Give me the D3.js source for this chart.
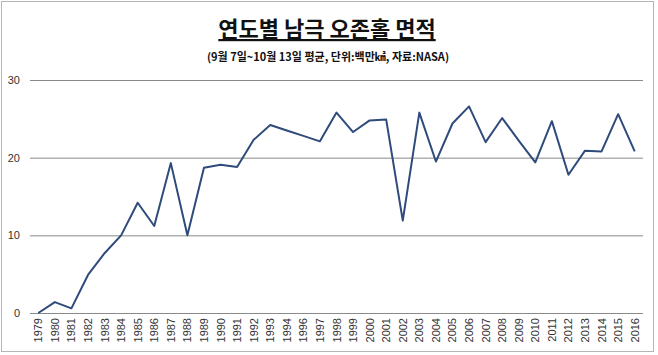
<!DOCTYPE html>
<html><head><meta charset="utf-8">
<script src="https://cdn.jsdelivr.net/npm/d3@7/dist/d3.min.js"></script>
<style>body{margin:0;background:#fff}svg{display:block}</style>
</head><body>
<svg id="c" width="658" height="355"></svg>
<script>
const years = ["1979","1980","1981","1982","1983","1984","1985","1986","1987","1988","1989","1990","1991","1992","1993","1994","1996","1997","1998","1999","2000","2001","2002","2003","2004","2005","2006","2007","2008","2009","2010","2011","2012","2013","2014","2015","2016"];
const area = [0.0,1.4,0.6,4.9,7.7,10.0,14.2,11.2,19.3,10.0,18.7,19.1,18.8,22.3,24.2,23.5,22.8,22.1,25.8,23.3,24.8,24.9,11.9,25.8,19.5,24.4,26.6,22.0,25.1,22.2,19.4,24.7,17.8,20.9,20.8,25.6,20.8];
const yTicks = [0,10,20,30];
const title = "연도별 남극 오존홀 면적";
const subtitle = "(9월 7일~10월 13일 평균, 단위:백만㎢, 자료:NASA)";

const svg = d3.select("#c");
const L = 30, R = 643, T = 80, B = 313;
const x = d3.scaleBand().domain(years).range([L, R]);
const y = d3.scaleLinear().domain([0, 30]).range([B, T]);
const font = "'Liberation Sans', Arial, sans-serif";

// outer frame
svg.append("rect").attr("x", 1.5).attr("y", 1.5).attr("width", 652).attr("height", 350)
  .attr("fill", "none").attr("stroke", "#b5b5b5").attr("stroke-width", 1);

// title
svg.append("text").attr("x", 327).attr("y", 37).attr("text-anchor", "middle")
  .attr("font-family", "'Noto Sans CJK KR', sans-serif").attr("font-weight", "bold")
  .attr("font-size", 22).attr("fill", "#111").attr("text-decoration", "underline").text(title);
svg.append("text").attr("x", 328).attr("y", 61).attr("text-anchor", "middle")
  .attr("font-family", "'Noto Sans CJK KR', sans-serif").attr("font-weight", "bold")
  .attr("font-size", 11).attr("fill", "#111").text(subtitle);

// gridlines
svg.append("g").selectAll("line").data(yTicks).join("line")
  .attr("x1", L).attr("x2", R).attr("y1", d => y(d) + 0.5).attr("y2", d => y(d) + 0.5)
  .attr("stroke", "#8a8a8a").attr("stroke-width", 1);

// y labels
svg.append("g").selectAll("text").data(yTicks).join("text")
  .attr("x", 20).attr("y", d => y(d) + 4).attr("text-anchor", "end")
  .attr("font-family", font).attr("font-size", 11).attr("fill", "#333").text(d => d);

// x labels
svg.append("g").selectAll("text").data(years).join("text")
  .attr("transform", d => `translate(${x(d) + x.bandwidth() / 2 + 4},318) rotate(-90)`)
  .attr("text-anchor", "end")
  .attr("font-family", font).attr("font-size", 11).attr("fill", "#333").text(d => d);

// line
const line = d3.line().x((d, i) => x(years[i]) + x.bandwidth() / 2).y(d => y(d));
svg.append("path").datum(area).attr("d", line).attr("fill", "none")
  .attr("stroke", "#2f4b7c").attr("stroke-width", 2).attr("stroke-linejoin", "round");
</script>
</body></html>
